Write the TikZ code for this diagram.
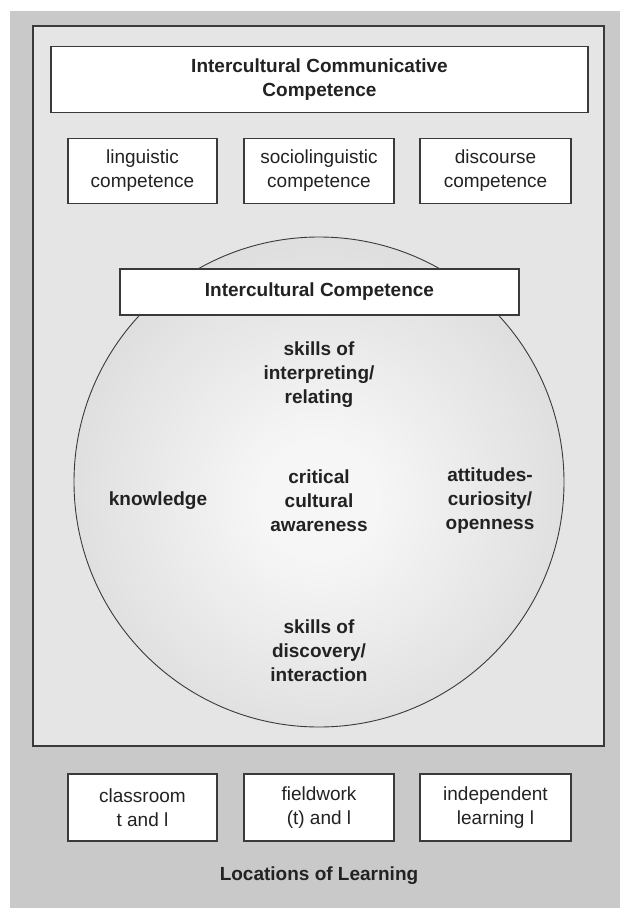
\documentclass[tikz,border=0pt]{standalone}
\usepackage{fontspec}
\setmainfont{Liberation Sans}
\definecolor{outerbg}{HTML}{C9C9C9}
\definecolor{innerbg}{HTML}{E5E5E5}
\definecolor{linecol}{HTML}{3A3A3A}
\definecolor{txtcol}{HTML}{222222}
\definecolor{ballc}{HTML}{F6F6F6}
\definecolor{ballm}{HTML}{DCDCDC}
\definecolor{balle}{HTML}{C6C6C6}
\pgfdeclareradialshading{ballshade}{\pgfpoint{0bp}{-2bp}}{color(0bp)=(ballc); color(6bp)=(ballc); color(28bp)=(ballm); color(50bp)=(balle); color(60bp)=(balle)}
\tikzset{
  wbox/.style={draw=linecol, line width=1.3pt, fill=white, inner sep=0pt, text=txtcol, align=center, font=\fontsize{19}{24}\selectfont},
  lbl/.style={inner sep=0pt, text=txtcol, align=center, font=\fontsize{19}{24}\selectfont\bfseries},
}
\begin{document}
\begin{tikzpicture}[x=1pt,y=-1pt]
\useasboundingbox (0,0) rectangle (620,908);
\fill[white] (0,0) rectangle (620,908);
\fill[outerbg] (10,11) rectangle (620,908);
\draw[fill=innerbg, draw=linecol, line width=2pt] (33,26) rectangle (604,746);
% top title box
\node[wbox, font=\fontsize{19}{24}\selectfont\bfseries, minimum width=537pt, minimum height=66pt] (icc) at (319.5,79.5) {Intercultural Communicative\\Competence};
% three competence boxes
\node[wbox, minimum width=149pt, minimum height=65pt] (ling) at (142.5,171) {linguistic\\competence};
\node[wbox, minimum width=150pt, minimum height=65pt] (socio) at (319,171) {sociolinguistic\\competence};
\node[wbox, minimum width=151pt, minimum height=65pt] (disc) at (495.5,171) {discourse\\competence};
% circle
\node[circle, minimum size=490pt, inner sep=0pt, draw=linecol, line width=0.9pt, shading=ballshade] (ball) at (319,482) {};
% intercultural competence box
\node[wbox, font=\fontsize{19}{24}\selectfont\bfseries, minimum width=399pt, minimum height=46pt] (ic) at (319.5,292) {Intercultural Competence};
% labels inside the circle
\node[lbl] (interp) at (319,375) {skills of\\interpreting/\\relating};
\node[lbl] (know) at (158,501) {knowledge};
\node[lbl] (crit) at (319,501) {critical\\cultural\\awareness};
\node[lbl] (att) at (490,501) {attitudes-\\curiosity/\\openness};
\node[lbl] (disco) at (319,651) {skills of\\discovery/\\interaction};
% locations of learning
\node[wbox, minimum width=149pt, minimum height=67pt] (class) at (142.5,807.5) {classroom\\t and l};
\node[wbox, minimum width=150pt, minimum height=67pt] (field) at (319,807.5) {fieldwork\\(t) and l};
\node[wbox, minimum width=151pt, minimum height=67pt] (indep) at (495.5,807.5) {independent\\learning l};
\node[lbl] (loc) at (319,876) {Locations of Learning};
\end{tikzpicture}
\end{document}
